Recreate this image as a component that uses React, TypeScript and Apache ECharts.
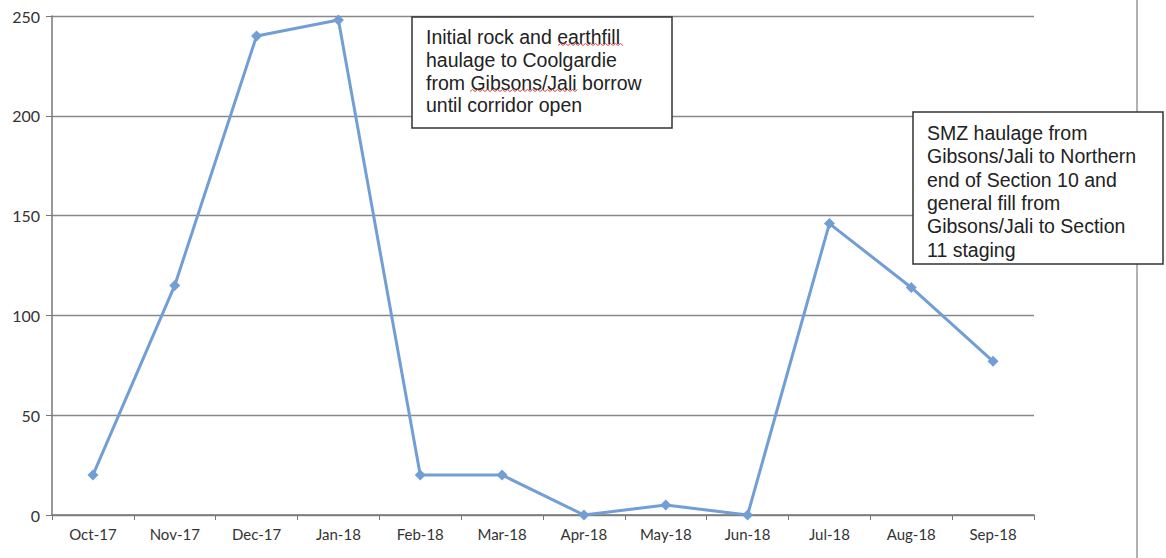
import React, { useEffect, useRef } from "react";
import * as echarts from "echarts";

const categories = ["Oct-17", "Nov-17", "Dec-17", "Jan-18", "Feb-18", "Mar-18", "Apr-18", "May-18", "Jun-18", "Jul-18", "Aug-18", "Sep-18"];
const values = [20, 115, 240, 248, 20, 20, 0, 5, 0, 146, 114, 77];
const yTicks = { min: 0, max: 250, interval: 50 };
const note1 = ["Initial rock and earthfill", "haulage to Coolgardie", "from Gibsons/Jali borrow", "until corridor open"];
const note2 = ["SMZ haulage from", "Gibsons/Jali to Northern", "end of Section 10 and", "general fill from", "Gibsons/Jali to Section", "11 staging"];

function squiggle(x1: number, x2: number, y: number) {
  const pts: number[][] = [];
  let up = false;
  for (let x = x1; x <= x2; x += 2.5) {
    pts.push([x, up ? y - 1.5 : y + 0.5]);
    up = !up;
  }
  return pts;
}

export default function App() {
  const ref = useRef<HTMLDivElement>(null);
  useEffect(() => {
    if (!ref.current) return;
    const chart = echarts.init(ref.current, undefined, { renderer: "svg" });
    const font = "'Liberation Sans', Arial, sans-serif";
    chart.setOption({
      animation: false,
      grid: { left: 52, right: 132, top: 16, bottom: 43 },
      xAxis: {
        type: "category",
        data: categories,
        boundaryGap: true,
        axisLine: { lineStyle: { color: "#777", width: 1.5 } },
        axisTick: { show: true, length: 5, lineStyle: { color: "#777" } },
        axisLabel: { color: "#333", fontSize: 15, fontFamily: "Lato, 'Open Sans', sans-serif", margin: 11 },
      },
      yAxis: {
        type: "value",
        min: yTicks.min,
        max: yTicks.max,
        interval: yTicks.interval,
        axisLine: { show: true, lineStyle: { color: "#777", width: 1.5 } },
        axisTick: { show: true, length: 6, lineStyle: { color: "#777" } },
        axisLabel: { color: "#333", fontSize: 16, fontFamily: "Lato, 'Open Sans', sans-serif", margin: 12 },
        splitLine: { lineStyle: { color: "#888", width: 1.3 } },
      },
      series: [
        {
          type: "line",
          data: values,
          symbol: "diamond",
          symbolSize: 11,
          lineStyle: { color: "#729ed6", width: 3 },
          itemStyle: { color: "#729ed6" },
        },
      ],
      graphic: [
        { type: "line", z: 1, shape: { x1: 1137, y1: 0, x2: 1137, y2: 558 }, style: { stroke: "#888", lineWidth: 1.3 } },
        { type: "rect", z: 10, shape: { x: 412, y: 17, width: 260, height: 111 }, style: { fill: "#fff", stroke: "#333", lineWidth: 1.5 } },
        {
          type: "text", z: 11, x: 426, y: 26,
          style: { text: note1.join("\n"), font: `19.5px ${font}`, lineHeight: 22.7, fill: "#222" },
        },
        { type: "polyline", z: 12, shape: { points: squiggle(558, 623, 45) }, style: { stroke: "#d44", lineWidth: 1, fill: null } },
        { type: "polyline", z: 12, shape: { points: squiggle(470, 578, 91) }, style: { stroke: "#d44", lineWidth: 1, fill: null } },
        { type: "rect", z: 10, shape: { x: 913, y: 112, width: 250, height: 152 }, style: { fill: "#fff", stroke: "#333", lineWidth: 1.5 } },
        {
          type: "text", z: 11, x: 927, y: 121,
          style: { text: note2.join("\n"), font: `19.5px ${font}`, lineHeight: 23.4, fill: "#222" },
        },
      ],
    });
    return () => chart.dispose();
  }, []);
  return <div ref={ref} style={{ width: 1166, height: 558, position: "absolute", left: 0, top: 0, background: "#fff" }} />;
}
